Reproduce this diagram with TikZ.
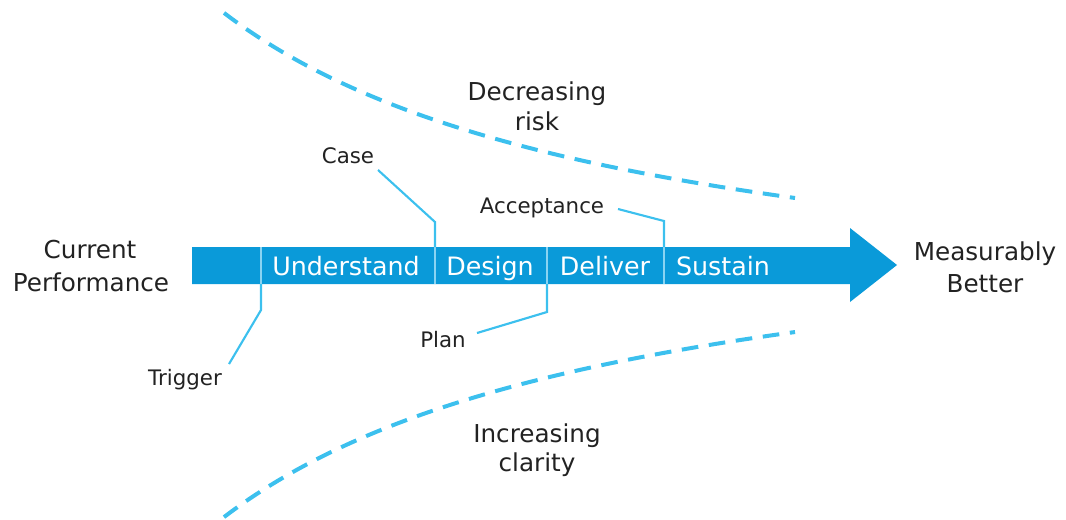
\documentclass[tikz,border=0pt]{standalone}
\usepackage{fontspec}
\setmainfont{DejaVu Sans}
\definecolor{barblue}{HTML}{0A9AD9}
\definecolor{lineblue}{HTML}{3CC0EE}
\definecolor{divblue}{HTML}{8AD4F2}
\definecolor{txt}{HTML}{222222}
\begin{document}
\begin{tikzpicture}[x=0.75pt,y=-0.75pt,
  big/.style={font=\fontsize{18.5}{21}\selectfont, text=txt, inner sep=0, anchor=base},
  small/.style={font=\fontsize{16}{18}\selectfont, text=txt, inner sep=0, anchor=base},
  phase/.style={font=\fontsize{19}{21}\selectfont, text=white, inner sep=0, anchor=base},
  conn/.style={draw=lineblue, line width=1.6pt},
  divider/.style={draw=divblue, line width=1.5pt},
  dashcurve/.style={draw=lineblue, line width=3pt, dash pattern=on 12.5pt off 8pt}]
\useasboundingbox (0,0) rectangle (1066,519);
% main arrow
\fill[barblue] (192,247) -- (850,247) -- (850,228) -- (897,265) -- (850,302) -- (850,284) -- (192,284) -- cycle;
% dividers
\coordinate (d1t) at (261,247); \coordinate (d1b) at (261,284);
\coordinate (d2t) at (435,247); \coordinate (d2b) at (435,284);
\coordinate (d3t) at (547,247); \coordinate (d3b) at (547,284);
\coordinate (d4t) at (664,247); \coordinate (d4b) at (664,284);
\foreach \i in {1,2,3,4} \draw[divider] (d\i t) -- (d\i b);
% phase labels
\node[phase] (und) at (346,275) {Understand};
\node[phase] (des) at (490,275) {Design};
\node[phase] (del) at (605,275) {Deliver};
\node[phase] (sus) at (723,275) {Sustain};
% end labels
\node[big] (cur1) at (90,258) {Current};
\node[big] (cur2) at (91,291) {Performance};
\node[big] (mb1) at (985,260) {Measurably};
\node[big] (mb2) at (985,292) {Better};
\node[big] (dr1) at (537,100) {Decreasing};
\node[big] (dr2) at (537,130) {risk};
\node[big] (ic1) at (537,442) {Increasing};
\node[big] (ic2) at (537,471) {clarity};
% milestone labels
\node[small] (case) at (348,163) {Case};
\node[small] (acc) at (542,213) {Acceptance};
\node[small] (plan) at (443,347) {Plan};
\node[small] (trig) at (185,385) {Trigger};
\coordinate (casee) at (378,170);
\coordinate (acce) at (618,209);
\coordinate (plane) at (477,333);
\coordinate (trige) at (229,364);
% connectors
\draw[conn] (d2t) -- (435,222) -- (casee);
\draw[conn] (d4t) -- (664,221) -- (acce);
\draw[conn] (d3b) -- (547,312) -- (plane);
\draw[conn] (d1b) -- (261,310) -- (trige);
% dashed curves
\draw[dashcurve, domain=224:795, samples=80, smooth] plot (\x, {265 + 70.4 - 1367.3/(\x/100+2)});
\draw[dashcurve, domain=224:795, samples=80, smooth] plot (\x, {265 - 70.4 + 1367.3/(\x/100+2)});
\end{tikzpicture}
\end{document}
